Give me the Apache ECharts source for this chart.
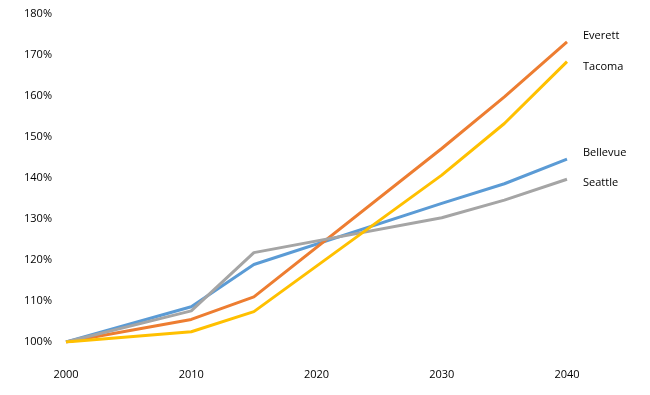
<!DOCTYPE html>
<html>
<head>
<meta charset="utf-8">
<script src="https://cdn.jsdelivr.net/npm/echarts@6/dist/echarts.min.js"></script>
<style>html,body{margin:0;padding:0;background:#fff}#c{width:650px;height:395px}</style>
</head>
<body>
<div id="c"></div>
<script>
var years = [2000, 2010, 2015, 2030, 2035, 2040];
var bellevue = [100, 108.6, 118.9, 133.8, 138.6, 144.6];
var everett = [100, 105.5, 111.0, 147.2, 159.8, 173.2];
var seattle = [100, 107.6, 121.8, 130.3, 134.6, 139.7];
var tacoma = [100, 102.5, 107.4, 140.7, 153.3, 168.4];
var xTicks = [2000, 2010, 2020, 2030, 2040];
var yTicks = [100, 110, 120, 130, 140, 150, 160, 170, 180];

function pairs(vals){ return years.map(function(y,i){ return [y, vals[i]]; }); }
var font = '"Open Sans", "Noto Sans", sans-serif';
function mk(name, vals, color, off){
  return {
    name: name, type: 'line', data: pairs(vals), showSymbol: false, symbol: 'none',
    lineStyle: {color: color, width: 3}, itemStyle: {color: color},
    endLabel: {show: true, formatter: name, distance: 16, offset: off,
      color: '#000', fontFamily: font, fontSize: 11},
    animation: false
  };
}
var chart = echarts.init(document.getElementById('c'));
chart.setOption({
  animation: false,
  grid: {left: 66, right: 83, top: 14, bottom: 53},
  xAxis: {
    type: 'value', min: xTicks[0], max: xTicks[xTicks.length-1], interval: 10,
    axisLine: {show: false}, axisTick: {show: false}, splitLine: {show: false},
    axisLabel: {color: '#000', fontFamily: font, fontSize: 11, margin: 27,
      formatter: function(v){ return String(v); }}
  },
  yAxis: {
    type: 'value', min: yTicks[0], max: yTicks[yTicks.length-1], interval: 10,
    axisLine: {show: false}, axisTick: {show: false}, splitLine: {show: false},
    axisLabel: {color: '#000', fontFamily: font, fontSize: 11, margin: 14, formatter: '{value}%'}
  },
  series: [
    mk('Bellevue', bellevue, '#5B9BD5', [0, -6]),
    mk('Everett', everett, '#ED7D31', [0, -6]),
    mk('Seattle', seattle, '#A5A5A5', [0, 4]),
    mk('Tacoma', tacoma, '#FFC000', [0, 5])
  ]
});
</script>
</body>
</html>
